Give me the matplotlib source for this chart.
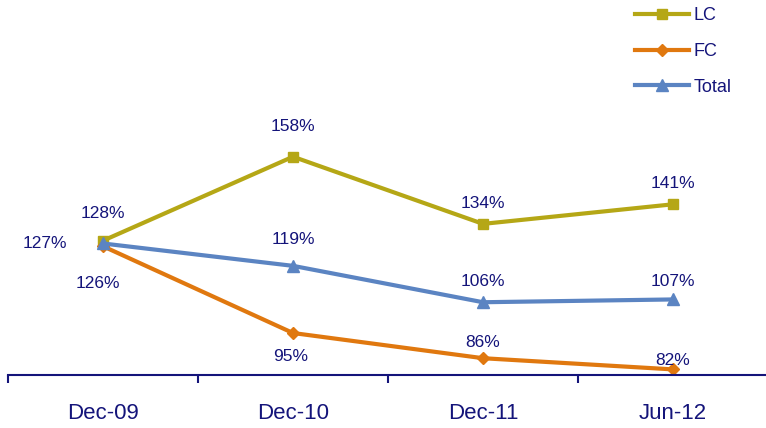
import matplotlib.pyplot as plt

plt.rcParams['font.family'] = ['Liberation Sans', 'DejaVu Sans']

# data
periods = ["Dec-09", "Dec-10", "Dec-11", "Jun-12"]
lc = [128, 158, 134, 141]
fc = [126, 95, 86, 82]
total = [127, 119, 106, 107]

navy = "#14147a"
c_lc = "#b5a716"
c_fc = "#e0780f"
c_tot = "#5b84c2"

fig = plt.figure(figsize=(7.66, 4.28), dpi=100)
ax = fig.add_axes([8 / 766, 53 / 428, 760 / 766, 375 / 428])

x = list(range(len(periods)))
ax.plot(x, lc, color=c_lc, lw=3, marker="s", ms=7, label="LC")
ax.plot(x, fc, color=c_fc, lw=3, marker="D", ms=6, label="FC")
ax.plot(x, total, color=c_tot, lw=3, marker="^", ms=8, label="Total")

ax.set_xlim(-0.5, 3.5)
ax.set_ylim(80, 214)

# data labels (offsets in points)
lc_off = [(0, 19.5), (0, 22), (0, 15), (0, 15)]
fc_off = [(-3.6, -27), (-2, -17), (0, 11), (0, 6.5)]
tot_off = [(-42, 0), (0, 19), (0, 15), (0, 13)]
for vals, offs in [(lc, lc_off), (fc, fc_off), (total, tot_off)]:
    for i, v in enumerate(vals):
        ax.annotate(f"{v}%", (i, v), xytext=offs[i], textcoords="offset points",
                    ha="center", va="center", fontsize=12.5, color=navy)

# axis styling
for s in ["top", "right", "left"]:
    ax.spines[s].set_visible(False)
ax.spines["bottom"].set_color(navy)
ax.spines["bottom"].set_linewidth(1.5)
ax.set_yticks([])
ax.set_xticks(x)
ax.set_xticklabels(periods, fontsize=16, color=navy)
ax.tick_params(axis="x", which="major", length=0, pad=20)
ax.set_xticks([-0.5, 0.5, 1.5, 2.5, 3.5], minor=True)
ax.tick_params(axis="x", which="minor", length=6, width=1.5, color=navy, direction="out")

leg = ax.legend(loc="upper right", bbox_to_anchor=(0.974, 1.025), frameon=False,
                fontsize=13, handlelength=3.0, labelspacing=1.05, handletextpad=0.25)
for t in leg.get_texts():
    t.set_color(navy)

fig.savefig("out.png", dpi=100)
